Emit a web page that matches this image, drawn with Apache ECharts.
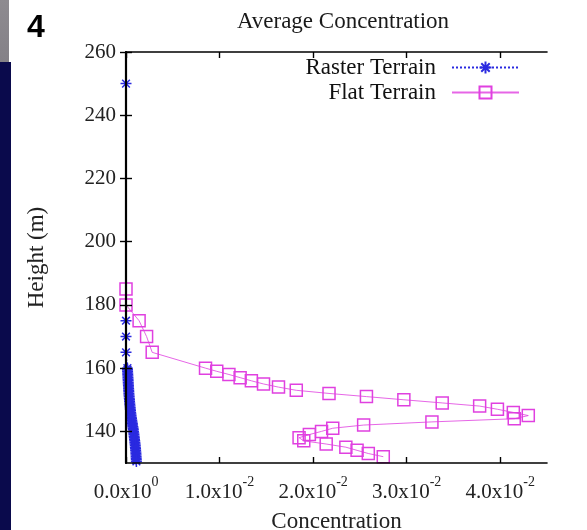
<!DOCTYPE html>
<html>
<head>
<meta charset="utf-8">
<script src="https://cdn.jsdelivr.net/npm/echarts@6/dist/echarts.min.js"></script>
<style>html,body{margin:0;padding:0;background:#fff}#c{width:587px;height:530px}</style>
</head>
<body>
<div id="c"></div>
<script>
// ---- data ----
const chartTitle = 'Average Concentration';
const xTitle = 'Concentration';
const yTitle = 'Height (m)';
const seriesNames = ['Raster Terrain', 'Flat Terrain'];

const xTickValues = [0, 0.01, 0.02, 0.03, 0.04];
const xTickMantissa = ['0.0x10', '1.0x10', '2.0x10', '3.0x10', '4.0x10'];
const xTickExponent = ['0', '-2', '-2', '-2', '-2'];
const yTickValues = [140, 160, 180, 200, 220, 240, 260];

const rasterHeight = [250, 175, 170, 165,
  160, 159.5, 159, 158.5, 158, 157.5, 157, 156.5, 156, 155.5, 155, 154.5, 154, 153.5, 153, 152.5,
  152, 151.5, 151, 150.5, 150, 149.5, 149, 148.5, 148, 147.5, 147, 146.5, 146, 145.5, 145, 144.5,
  144, 143.5, 143, 142.5, 142, 141.5, 141, 140.5, 140, 139.5, 139, 138.5, 138, 137.5, 137, 136.5,
  136, 135.5, 135, 134.5, 134, 133.5, 133, 132.5, 132, 131.5, 131, 130.5];
const rasterConc = [0, 0, 0, 0,
  0.00015, 0.00016, 0.00017, 0.00018, 0.00019, 0.0002, 0.00021, 0.00022, 0.00023, 0.00024, 0.00025, 0.00026, 0.00027, 0.00028, 0.00029, 0.0003,
  0.00031, 0.00032, 0.00034, 0.00035, 0.00037, 0.00038, 0.0004, 0.00041, 0.00043, 0.00045, 0.00046, 0.00048, 0.0005, 0.00052, 0.00054, 0.00057,
  0.00059, 0.00062, 0.00065, 0.00068, 0.0007, 0.00073, 0.00076, 0.00078, 0.0008, 0.00083, 0.00085, 0.00087, 0.00089, 0.00091, 0.00093, 0.00095,
  0.00097, 0.00099, 0.001, 0.00102, 0.00103, 0.00105, 0.00106, 0.00107, 0.00108, 0.00109, 0.0011, 0.00111];

const flatHeight = [185, 180, 175, 170, 165, 160, 159, 158, 157, 156, 155, 154, 153, 152, 151, 150,
  149, 148, 147, 146, 145, 144, 143, 142, 141, 140, 139, 138, 137, 136, 135, 134, 133, 132];
const flatConc = [0, 0, 0.0014, 0.0022, 0.0028, 0.0085, 0.0097, 0.011, 0.0122, 0.0134, 0.0147, 0.0163, 0.0182, 0.0217, 0.0257, 0.0297,
  0.0338, 0.0378, 0.0397, 0.0414, 0.043, 0.0415, 0.0327, 0.0254, 0.0221, 0.0209, 0.0196, 0.0185, 0.019, 0.0214, 0.0235, 0.0247, 0.0259, 0.0275];

// ---- chart ----
const SERIF = '"Liberation Serif", "Times New Roman", serif';
const BLUE = '#2a2ae0';
const MAG = '#e040e0';
const chart = echarts.init(document.getElementById('c'), null, {renderer: 'canvas'});

const rasterData = rasterConc.map((c, i) => [c, rasterHeight[i]]);
const flatData = flatConc.map((c, i) => [c, flatHeight[i]]);

const axisLineStyle = {color: '#000', width: 1.6};
const xLabelFmt = v => {
  const i = xTickValues.findIndex(t => Math.abs(t - v) < 1e-9);
  if (i < 0) return '';
  return '{b|' + xTickMantissa[i] + '}{s|' + xTickExponent[i] + '}';
};

chart.setOption({
  animation: false,
  backgroundColor: '#fff',
  title: {
    text: chartTitle, left: 338, top: 5, textAlign: 'center',
    textStyle: {fontFamily: SERIF, fontSize: 23, fontWeight: 'normal', color: '#1a1a1a'}
  },
  grid: {left: 126, top: 52, right: 40, bottom: 67, outerBoundsMode: 'none', containLabel: false},
  legend: {
    orient: 'vertical', align: 'right', right: 67, top: 56, padding: 0,
    itemWidth: 67, itemHeight: 15, itemGap: 2,
    data: seriesNames,
    formatter: n => '{t|' + n + '}',
    textStyle: {fontFamily: SERIF, fontSize: 23, color: '#111',
      rich: {t: {fontFamily: SERIF, fontSize: 23, color: '#111', padding: [0, 11, 0, 0]}}}
  },
  xAxis: [{
    type: 'value', min: 0, max: 0.045, position: 'bottom', z: 10,
    name: xTitle, nameLocation: 'middle', nameGap: 47,
    nameTextStyle: {fontFamily: SERIF, fontSize: 23, color: '#222'},
    axisLine: {show: true, lineStyle: axisLineStyle},
    axisTick: {show: true, inside: true, length: 6, customValues: xTickValues, lineStyle: {color: '#000', width: 1.4}},
    axisLabel: {
      customValues: xTickValues, margin: 12, formatter: xLabelFmt, color: '#222',
      rich: {
        b: {fontFamily: SERIF, fontSize: 21, color: '#222', verticalAlign: 'bottom', lineHeight: 28},
        s: {fontFamily: SERIF, fontSize: 14, color: '#222', verticalAlign: 'top', lineHeight: 14}
      }
    },
    splitLine: {show: false}
  }, {
    type: 'value', min: 0, max: 0.045, position: 'top', z: 10,
    axisLine: {show: true, lineStyle: axisLineStyle},
    axisTick: {show: true, inside: true, length: 6, customValues: xTickValues, lineStyle: {color: '#000', width: 1.4}},
    axisLabel: {show: false}, splitLine: {show: false}
  }],
  yAxis: [{
    type: 'value', min: 130, max: 260, position: 'left', z: 10,
    name: yTitle, nameLocation: 'middle', nameGap: 78, nameRotate: 90,
    nameTextStyle: {fontFamily: SERIF, fontSize: 23, color: '#222'},
    axisLine: {show: true, lineStyle: {color: '#000', width: 2.2}},
    axisTick: {show: true, inside: true, length: 6, customValues: yTickValues, lineStyle: {color: '#000', width: 1.4}},
    axisLabel: {customValues: yTickValues, margin: 10, fontFamily: SERIF, fontSize: 21, color: '#222'},
    splitLine: {show: false}
  }, {
    type: 'value', min: 130, max: 260, position: 'right', z: 10,
    axisLine: {show: true, lineStyle: axisLineStyle},
    axisTick: {show: true, inside: true, length: 6, customValues: yTickValues, lineStyle: {color: '#000', width: 1.4}},
    axisLabel: {show: false}, splitLine: {show: false}
  }],
  series: [{
    name: seriesNames[0], type: 'line', data: rasterData, clip: false,
    symbol: 'path://M5,0L5,10M0,5L10,5M1.5,1.5L8.5,8.5M1.5,8.5L8.5,1.5', symbolSize: 11,
    showAllSymbol: true,
    itemStyle: {color: 'rgba(0,0,0,0)', borderColor: BLUE, borderWidth: 1.5},
    lineStyle: {color: BLUE, width: 1.2, type: 'dotted'},
    z: 3
  }, {
    name: seriesNames[1], type: 'line', data: flatData, clip: false,
    symbol: 'rect', symbolSize: 12, showAllSymbol: true,
    itemStyle: {color: 'rgba(0,0,0,0)', borderColor: MAG, borderWidth: 1.5},
    lineStyle: {color: MAG, width: 1, opacity: 0.8},
    z: 4
  }],
  graphic: [
    {type: 'rect', left: 0, top: 0, shape: {width: 9, height: 62},
      style: {fill: new echarts.graphic.LinearGradient(0, 0, 0, 1, [{offset: 0, color: '#8e8b90'}, {offset: 1, color: '#848187'}])}},
    {type: 'rect', left: 0, top: 62, shape: {width: 11, height: 468}, style: {fill: '#0a0a4c'}},
    {type: 'text', left: 27, top: 12, style: {text: '4', font: 'bold 32px "Liberation Sans", Arial, sans-serif', fill: '#000'}}
  ]
});
</script>
</body>
</html>
